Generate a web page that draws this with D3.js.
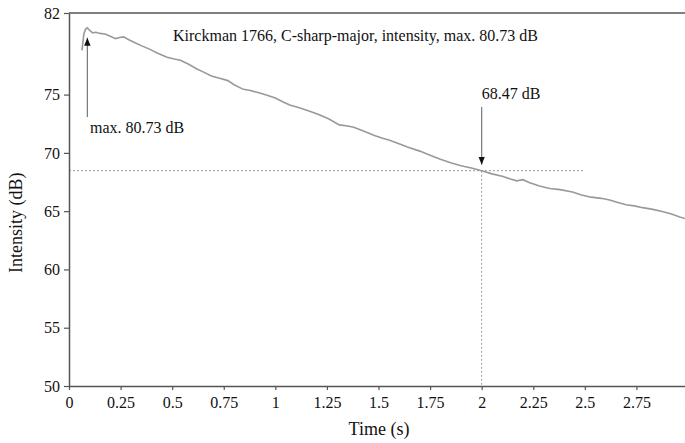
<!DOCTYPE html>
<html lang="en">
<head>
  <meta charset="UTF-8">
  <title>Kirckman 1766 intensity</title>
  <script src="https://cdn.jsdelivr.net/npm/d3@7.6.1/dist/d3.min.js"></script>
  <style>
    body { margin: 0; background: #fff; }
    svg { display: block; font-family: "Liberation Serif", "Times New Roman", serif; }
  </style>
</head>
<body>
  <div id="box"></div>
  <script>
    const width = 685
    const height = 443
    const margin = { left: 69, right: -3, top: 13, bottom: 57 }

    // time (s) and intensity (dB)
    const time = [0.063, 0.072, 0.08, 0.089, 0.1, 0.115, 0.13, 0.15, 0.175, 0.2, 0.225, 0.245, 0.265,
      0.29, 0.32, 0.35, 0.39, 0.43, 0.475, 0.51, 0.54, 0.58, 0.62, 0.65, 0.69, 0.73, 0.77, 0.8, 0.845,
      0.88, 0.92, 0.96, 1.0, 1.04, 1.07, 1.12, 1.17, 1.21, 1.26, 1.31, 1.35, 1.38, 1.43, 1.48, 1.52,
      1.55, 1.59, 1.64, 1.7, 1.75, 1.8, 1.85, 1.9, 1.95, 2.0, 2.05, 2.1, 2.14, 2.17, 2.2, 2.23, 2.28,
      2.33, 2.38, 2.44, 2.48, 2.53, 2.58, 2.62, 2.66, 2.7, 2.74, 2.78, 2.83, 2.88, 2.92, 2.96, 3.0]
    const intensity = [78.8, 80.2, 80.6, 80.73, 80.5, 80.3, 80.35, 80.25, 80.2, 80.0, 79.8, 79.9, 79.95,
      79.7, 79.45, 79.2, 78.9, 78.55, 78.2, 78.05, 77.95, 77.6, 77.2, 76.95, 76.6, 76.4, 76.2, 75.85, 75.45,
      75.35, 75.15, 74.95, 74.7, 74.35, 74.1, 73.85, 73.55, 73.3, 72.9, 72.4, 72.3, 72.2, 71.85, 71.5, 71.25,
      71.1, 70.85, 70.5, 70.15, 69.8, 69.45, 69.15, 68.9, 68.7, 68.47, 68.2, 68.0, 67.75, 67.6, 67.7, 67.45, 67.15,
      66.95, 66.85, 66.65, 66.4, 66.2, 66.1, 65.95, 65.75, 65.55, 65.45, 65.3, 65.15, 64.95, 64.75, 64.5, 64.3]
    const xTicks = [0, 0.25, 0.5, 0.75, 1, 1.25, 1.5, 1.75, 2, 2.25, 2.5, 2.75, 3]
    const yTicks = [50, 55, 60, 65, 70, 75, 82]
    const maxPoint = { t: 0.089, db: 80.73 }
    const markPoint = { t: 2, db: 68.47 }

    const svg = d3.select('#box').append('svg')
      .attr('width', width)
      .attr('height', height)

    const xScale = d3.scaleLinear().domain([0, 3]).range([margin.left, width - margin.right])
    const yScale = d3.scaleLinear().domain([50, 82]).range([height - margin.bottom, margin.top])

    const defs = svg.append('defs')
    defs.append('marker')
      .attr('id', 'arrow')
      .attr('viewBox', '0 0 10 10')
      .attr('refX', 10).attr('refY', 5)
      .attr('markerWidth', 8).attr('markerHeight', 8)
      .attr('markerUnits', 'userSpaceOnUse')
      .attr('orient', 'auto')
      .append('path')
      .attr('d', 'M0,1 L10,5 L0,9 Z')
      .attr('fill', '#111')

    // dotted guide lines
    svg.append('line')
      .attr('x1', xScale(0)).attr('x2', xScale(2.5))
      .attr('y1', yScale(markPoint.db)).attr('y2', yScale(markPoint.db))
      .attr('stroke', '#999').attr('stroke-dasharray', '2,2')
    svg.append('line')
      .attr('x1', xScale(markPoint.t)).attr('x2', xScale(markPoint.t))
      .attr('y1', yScale(markPoint.db)).attr('y2', yScale(50))
      .attr('stroke', '#999').attr('stroke-dasharray', '2,2')

    // curve
    const line = d3.line()
      .x((d, i) => xScale(time[i]))
      .y(d => yScale(d))
    svg.append('path')
      .datum(intensity)
      .attr('d', line)
      .attr('fill', 'none')
      .attr('stroke', '#999')
      .attr('stroke-width', 1.6)

    // top frame
    svg.append('line')
      .attr('x1', xScale(0)).attr('x2', width)
      .attr('y1', yScale(82)).attr('y2', yScale(82))
      .attr('stroke', '#555').attr('stroke-width', 1.5)

    // axes
    const xAxis = d3.axisBottom(xScale).tickValues(xTicks).tickSize(4).tickSizeOuter(0)
      .tickFormat(d => d3.format('')(d))
    const gx = svg.append('g')
      .attr('transform', `translate(0,${yScale(50)})`)
      .call(xAxis)
    gx.selectAll('text').attr('font-size', 16).attr('fill', '#111').attr('dy', '0.95em')

    const yAxis = d3.axisLeft(yScale).tickValues(yTicks).tickSize(5).tickSizeOuter(0)
    const gy = svg.append('g')
      .attr('transform', `translate(${xScale(0)},0)`)
      .call(yAxis)
    gy.selectAll('text').attr('font-size', 16).attr('fill', '#111').attr('x', -9)

    svg.selectAll('.domain').attr('stroke', '#555').attr('stroke-width', 1.5)
    svg.selectAll('.tick line').attr('stroke', '#555').attr('stroke-width', 1.2)
    svg.selectAll('g').attr('font-family', null)

    // axis titles
    svg.append('text')
      .attr('x', 379).attr('y', 435)
      .attr('text-anchor', 'middle')
      .attr('font-size', 18)
      .attr('fill', '#111')
      .text('Time (s)')
    svg.append('text')
      .attr('transform', `translate(22,${yScale(64)}) rotate(-90)`)
      .attr('text-anchor', 'middle')
      .attr('font-size', 18)
      .attr('fill', '#111')
      .text('Intensity (dB)')

    // title inside plot
    svg.append('text')
      .attr('x', 173).attr('y', 41)
      .attr('font-size', 16)
      .attr('fill', '#111')
      .text('Kirckman 1766, C-sharp-major, intensity, max. 80.73 dB')

    // max annotation
    svg.append('line')
      .attr('x1', xScale(maxPoint.t)).attr('x2', xScale(maxPoint.t))
      .attr('y1', 117).attr('y2', yScale(maxPoint.db) + 10)
      .attr('stroke', '#777').attr('stroke-width', 1.2)
      .attr('marker-end', 'url(#arrow)')
    svg.append('text')
      .attr('x', 90).attr('y', 133)
      .attr('font-size', 16)
      .attr('fill', '#111')
      .text('max. 80.73 dB')

    // 68.47 annotation
    svg.append('line')
      .attr('x1', xScale(markPoint.t)).attr('x2', xScale(markPoint.t))
      .attr('y1', 107).attr('y2', yScale(markPoint.db) - 6)
      .attr('stroke', '#777').attr('stroke-width', 1.2)
      .attr('marker-end', 'url(#arrow)')
    svg.append('text')
      .attr('x', xScale(markPoint.t)).attr('y', 99)
      .attr('font-size', 16)
      .attr('fill', '#111')
      .text('68.47 dB')
  </script>
</body>
</html>
